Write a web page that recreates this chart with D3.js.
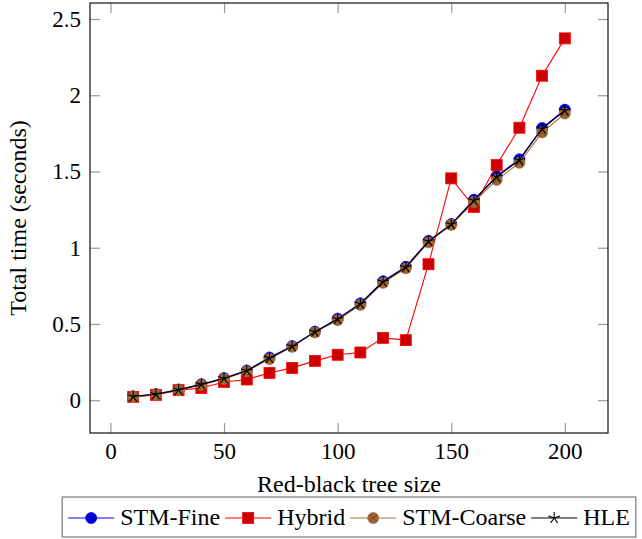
<!DOCTYPE html>
<html>
<head>
<meta charset="utf-8">
<script src="https://cdn.jsdelivr.net/npm/d3@7"></script>
<style>
  body { margin: 0; background: #fff; }
</style>
</head>
<body>
<div id="chart"></div>
<script>
// data
const treeSizes = [10, 20, 30, 40, 50, 60, 70, 80, 90, 100, 110, 120, 130, 140, 150, 160, 170, 180, 190, 200];
const stmFine = [0.025, 0.04, 0.07, 0.105, 0.145, 0.195, 0.28, 0.355, 0.45, 0.535, 0.635, 0.78, 0.875, 1.045, 1.155, 1.315, 1.47, 1.58, 1.785, 1.905];
const hybrid = [0.022, 0.035, 0.066, 0.08, 0.12, 0.136, 0.179, 0.212, 0.258, 0.298, 0.313, 0.409, 0.394, 0.892, 1.455, 1.268, 1.542, 1.787, 2.128, 2.373];
const stmCoarse = [0.022, 0.037, 0.066, 0.1, 0.14, 0.19, 0.27, 0.35, 0.445, 0.525, 0.625, 0.77, 0.865, 1.035, 1.15, 1.3, 1.445, 1.557, 1.756, 1.88];
const hle = [0.024, 0.039, 0.068, 0.104, 0.143, 0.193, 0.277, 0.353, 0.448, 0.532, 0.632, 0.777, 0.872, 1.042, 1.153, 1.31, 1.465, 1.575, 1.78, 1.9];
const xTicks = [0, 50, 100, 150, 200];
const yTicks = [0, 0.5, 1, 1.5, 2, 2.5];

const series = [
  { name: "STM-Fine", values: stmFine, line: "#0000ff", fill: "#0000cc", mark: "circle" },
  { name: "Hybrid", values: hybrid, line: "#ff0000", fill: "#cc0000", mark: "square" },
  { name: "STM-Coarse", values: stmCoarse, line: "#a8703a", fill: "#996633", mark: "otimes" },
  { name: "HLE", values: hle, line: "#000000", fill: "none", mark: "star" }
];

const FONT = "'Liberation Serif', 'Times New Roman', serif";
const W = 642, H = 539;
const plot = { left: 90, right: 608, top: 3, bottom: 433 };

const svg = d3.select("#chart").append("svg")
  .attr("width", W)
  .attr("height", H);

// pgfplots style: 10% enlarged limits
const x = d3.scaleLinear().domain([-9, 219]).range([plot.left, plot.right]);
const y = d3.scaleLinear().domain([-0.215, 2.605]).range([plot.bottom, plot.top]);

// ticks on all four sides, pointing in
function styleAxis(g) {
  g.attr("font-family", null).attr("font-size", null);
  g.select(".domain").remove();
  g.selectAll(".tick line").attr("stroke", "#999").attr("stroke-width", 1.2);
  g.selectAll(".tick text").style("font-family", FONT).style("font-size", "23px").attr("fill", "#000");
}
svg.append("g")
  .attr("transform", `translate(0,${plot.bottom})`)
  .call(d3.axisBottom(x).tickValues(xTicks).tickSizeInner(-10).tickSizeOuter(0).tickPadding(10))
  .call(styleAxis);
svg.append("g")
  .attr("transform", `translate(0,${plot.top})`)
  .call(d3.axisTop(x).tickValues(xTicks).tickSizeInner(-10).tickSizeOuter(0).tickFormat(""))
  .call(styleAxis);
svg.append("g")
  .attr("transform", `translate(${plot.left},0)`)
  .call(d3.axisLeft(y).tickValues(yTicks).tickSizeInner(-10).tickSizeOuter(0).tickPadding(9).tickFormat(d => d))
  .call(styleAxis);
svg.append("g")
  .attr("transform", `translate(${plot.right},0)`)
  .call(d3.axisRight(y).tickValues(yTicks).tickSizeInner(-10).tickSizeOuter(0).tickFormat(""))
  .call(styleAxis);

// frame
svg.append("rect")
  .attr("x", plot.left)
  .attr("y", plot.top)
  .attr("width", plot.right - plot.left)
  .attr("height", plot.bottom - plot.top)
  .attr("fill", "none")
  .attr("stroke", "#222")
  .attr("stroke-width", 1.3);

// marker drawing
function drawMark(g, s, cx, cy) {
  if (s.mark === "circle") {
    g.append("circle").attr("cx", cx).attr("cy", cy).attr("r", 5.5)
      .attr("fill", s.fill).attr("stroke", s.line).attr("stroke-width", 0.8);
  } else if (s.mark === "square") {
    g.append("rect").attr("x", cx - 5.5).attr("y", cy - 5.5).attr("width", 11).attr("height", 11)
      .attr("fill", s.fill).attr("stroke", s.line).attr("stroke-width", 0.8);
  } else if (s.mark === "otimes") {
    g.append("circle").attr("cx", cx).attr("cy", cy).attr("r", 5.5)
      .attr("fill", s.fill).attr("stroke", s.line).attr("stroke-width", 0.8);
    const d = 5.5 * Math.SQRT1_2;
    g.append("path")
      .attr("d", `M${cx - d},${cy - d}L${cx + d},${cy + d}M${cx - d},${cy + d}L${cx + d},${cy - d}`)
      .attr("stroke", "#6b4422").attr("stroke-width", 0.8);
  } else if (s.mark === "star") {
    let p = "";
    for (let k = 0; k < 5; k++) {
      const a = -Math.PI / 2 + k * 2 * Math.PI / 5;
      p += `M${cx},${cy}L${cx + 6 * Math.cos(a)},${cy + 6 * Math.sin(a)}`;
    }
    g.append("path").attr("d", p).attr("stroke", s.line).attr("stroke-width", 1.1).attr("fill", "none");
  }
}

const line = d3.line().x(d => x(d[0])).y(d => y(d[1]));

series.forEach(s => {
  const pts = treeSizes.map((t, i) => [t, s.values[i]]);
  const g = svg.append("g");
  g.append("path")
    .datum(pts)
    .attr("d", line)
    .attr("fill", "none")
    .attr("stroke", s.line)
    .attr("stroke-width", 1.1);
  pts.forEach(p => drawMark(g, s, x(p[0]), y(p[1])));
});

// axis titles
svg.append("text")
  .attr("x", (plot.left + plot.right) / 2)
  .attr("y", 492)
  .attr("text-anchor", "middle")
  .style("font-family", FONT)
  .style("font-size", "24px")
  .text("Red-black tree size");

svg.append("text")
  .attr("transform", `translate(26,${(plot.top + plot.bottom) / 2}) rotate(-90)`)
  .attr("text-anchor", "middle")
  .style("font-family", FONT)
  .style("font-size", "24px")
  .text("Total time (seconds)");

// legend, centered under the axis
const legend = svg.append("g");
const legendItems = legend.selectAll("g").data(series).join("g");
legendItems.append("text")
  .attr("y", 525)
  .style("font-family", FONT)
  .style("font-size", "24px")
  .text(d => d.name);
const widths = [];
legendItems.each(function () { widths.push(d3.select(this).select("text").node().getComputedTextLength()); });
const lineLen = 46, gapText = 6, gapItem = 5, padL = 6, padR = 6;
const total = widths.reduce((a, b) => a + b, 0) + series.length * (lineLen + gapText) + (series.length - 1) * gapItem + padL + padR;
const boxLeft = (plot.left + plot.right) / 2 - total / 2;
legend.insert("rect", ":first-child")
  .attr("x", boxLeft)
  .attr("y", 497)
  .attr("width", total)
  .attr("height", 40)
  .attr("fill", "#fff")
  .attr("stroke", "#777")
  .attr("stroke-width", 1.2);
let cur = boxLeft + padL;
legendItems.each(function (s, i) {
  const g = d3.select(this);
  g.insert("path", "text")
    .attr("d", `M${cur},518H${cur + lineLen}`)
    .attr("stroke", s.line)
    .attr("stroke-width", 1.1);
  drawMark(g, s, cur + lineLen / 2, 518);
  g.select("text").attr("x", cur + lineLen + gapText);
  cur += lineLen + gapText + widths[i] + gapItem;
});
</script>
</body>
</html>
